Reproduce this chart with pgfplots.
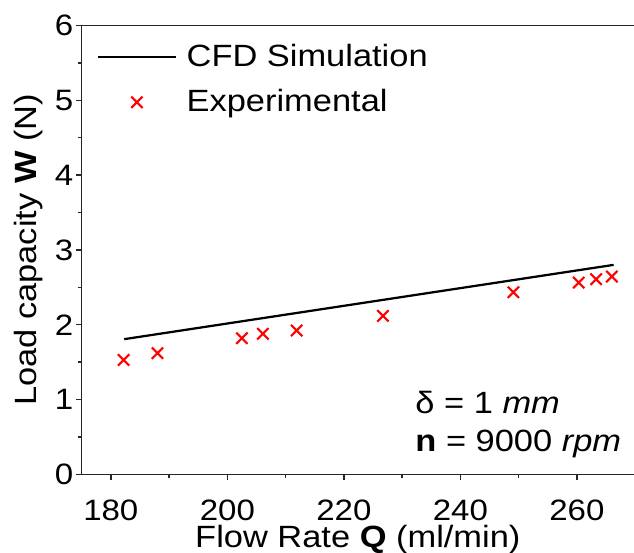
\documentclass[border=0pt]{standalone}
\usepackage{fontspec}
\setmainfont{Liberation Sans}[FakeStretch=1.12]
\usepackage{pgfplots}
\pgfplotsset{compat=1.18}
\begin{document}
\begin{tikzpicture}
\path[use as bounding box] (-32.68pt,-31.4pt) rectangle (221pt,189.8pt);
\begin{axis}[
  at={(0,0)}, anchor=south west, clip=false,
  scale only axis, width=221pt, height=179.6pt,
  xmin=175, xmax=269.8, ymin=0, ymax=6,
  axis lines*=left,
  axis line style={line width=0.6pt, black!85},
  xtick={180,200,220,240,260}, ytick={0,1,2,3,4,5,6},
  minor x tick num=1, minor y tick num=1,
  tick align=outside,
  major tick length=2.2pt, minor tick length=1.6pt,
  every tick/.style={black!85, line width=0.6pt},
  /pgf/number format/assume math mode=true,
  ticklabel style={font=\fontsize{11.8}{14}\selectfont},
  xticklabel style={anchor=north, inner sep=0pt, yshift=-7.8pt},
  yticklabel style={anchor=east, inner sep=0pt, xshift=-1pt},
  every axis x label/.style={at={(rel axis cs:0.5,0)}, anchor=base, yshift=-29.1pt, font=\fontsize{12.3}{14}\selectfont},
  every axis y label/.style={at={([xshift=-18pt]rel axis cs:0,0.5)}, anchor=base, rotate=90, font=\fontsize{12.3}{14}\selectfont},
  xlabel={Flow Rate \textbf{Q} (ml/min)},
  ylabel={Load capacity \textbf{W} (N)},
  legend image code/.code={\draw[mark repeat=2,mark phase=2,#1] plot coordinates {(0pt,0pt) (15.65pt,0pt) (31.3pt,0pt)};},
  legend cell align=left,
  legend style={at={(rel axis cs:0,1)}, anchor=north west, xshift=6pt, yshift=-6pt,
    draw=none, fill=none, inner sep=0pt, outer sep=0pt, row sep=4.5pt, column sep=3.8pt,
    font=\fontsize{12.3}{14}\selectfont,
    nodes={inner sep=0pt, outer sep=0pt, text height=10.5pt, text depth=3pt}},
]
\draw[line width=0.6pt, black!85] (rel axis cs:0,1) -- (rel axis cs:1,1);
\addplot[black, line width=0.9pt, no markers] coordinates {(182.3,1.807) (266.3,2.80)};
\addlegendentry{CFD Simulation}
\addplot[only marks, mark=x, mark size=3.2pt, red, mark options={line width=0.85pt}] coordinates {
(182.2,1.530) (188.0,1.620) (202.5,1.820) (206.1,1.878) (211.9,1.922)
(226.7,2.118) (249.1,2.435) (260.3,2.563) (263.3,2.609) (266.0,2.643)};
\addlegendentry{Experimental}
\node[anchor=base west, inner sep=0pt, font=\fontsize{12.3}{14}\selectfont] at (axis cs:232.2,0.818) {δ = 1 \textit{mm}};
\node[anchor=base west, inner sep=0pt, font=\fontsize{12.3}{14}\selectfont] at (axis cs:232.2,0.305) {\textbf{n} = 9000 \textit{rpm}};
\end{axis}
\end{tikzpicture}
\end{document}
